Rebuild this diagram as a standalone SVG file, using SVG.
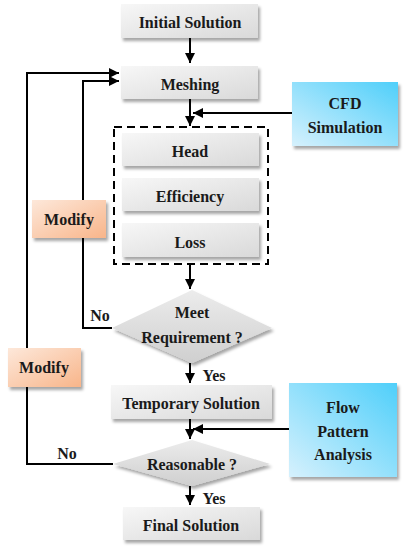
<svg xmlns="http://www.w3.org/2000/svg" width="406" height="550" viewBox="0 0 406 550">
<style>
text{font-family:'Liberation Serif','DejaVu Serif',serif;font-size:16px;font-weight:700;fill:#1a1a1a;text-anchor:middle;dominant-baseline:central}
.c{fill:none;stroke:#000;stroke-width:2}
.g{fill:url(#gray);filter:url(#sh)}
.b{fill:url(#blue);filter:url(#sh)}
.o{fill:url(#orange);filter:url(#sh)}
.d{fill:url(#dgray);filter:url(#sh)}
</style>
<defs>
<linearGradient id="gray" x1="0" y1="0" x2="1" y2="1"><stop offset="0" stop-color="#f7f7f7"/><stop offset="1" stop-color="#d9d9d9"/></linearGradient>
<linearGradient id="dgray" x1="0" y1="0" x2="0" y2="1"><stop offset="0" stop-color="#ececec"/><stop offset="1" stop-color="#cfcfcf"/></linearGradient>
<linearGradient id="blue" x1="1" y1="0" x2="0" y2="1"><stop offset="0" stop-color="#4fcffa"/><stop offset="1" stop-color="#d6f1fd"/></linearGradient>
<linearGradient id="orange" x1="0" y1="0" x2="1" y2="1"><stop offset="0" stop-color="#fde8da"/><stop offset="1" stop-color="#f8b58a"/></linearGradient>
<filter id="sh" x="-20%" y="-20%" width="140%" height="150%"><feDropShadow dx="2" dy="3" stdDeviation="1.5" flood-color="#000" flood-opacity="0.35"/></filter>
<marker id="ah" viewBox="0 0 10 10" refX="10" refY="5" markerWidth="5" markerHeight="5" orient="auto-start-reverse" markerUnits="strokeWidth"><path d="M0,0 L10,5 L0,10 z" fill="#000"/></marker>
</defs>
<g id="connectors">
<path class="c" d="M190,38 V63" marker-end="url(#ah)"/>
<path class="c" d="M190,99 V126" marker-end="url(#ah)"/>
<path class="c" d="M292,113 H193" marker-end="url(#ah)"/>
<path class="c" d="M190,264 V289" marker-end="url(#ah)"/>
<path class="c" d="M112,328 H83 V81 H119" marker-end="url(#ah)"/>
<path class="c" d="M113,464 H27 V73 H119" marker-end="url(#ah)"/>
<path class="c" d="M190,363 V383" marker-end="url(#ah)"/>
<path class="c" d="M190,419 V439" marker-end="url(#ah)"/>
<path class="c" d="M289,429 H193" marker-end="url(#ah)"/>
<path class="c" d="M190,486 V505" marker-end="url(#ah)"/>
<rect x="114" y="127" width="154" height="137" fill="none" stroke="#000" stroke-width="2" stroke-dasharray="8,5"/>
</g>
<g id="initial"><rect class="g" x="121" y="4" width="137" height="34"/><text x="190" y="22">Initial Solution</text></g>
<g id="meshing"><rect class="g" x="121" y="66" width="137" height="33"/><text x="190" y="84">Meshing</text></g>
<g id="cfd"><rect class="b" x="292" y="82" width="106" height="64"/><text x="345" y="103">CFD</text><text x="345" y="127">Simulation</text></g>
<g id="head"><rect class="g" x="122" y="133" width="137" height="33"/><text x="190" y="151">Head</text></g>
<g id="efficiency"><rect class="g" x="122" y="178" width="137" height="33"/><text x="190" y="196">Efficiency</text></g>
<g id="loss"><rect class="g" x="122" y="223" width="137" height="34"/><text x="190" y="242">Loss</text></g>
<g id="modify1"><rect class="o" x="32" y="200" width="74" height="38"/><text x="69" y="219">Modify</text></g>
<g id="meet"><path class="d" d="M192,290 L272,328 L192,363 L112,328 Z"/><text x="192" y="312">Meet</text><text x="192" y="337">Requirement ?</text></g>
<g id="modify2"><rect class="o" x="8" y="348" width="73" height="39"/><text x="44" y="367">Modify</text></g>
<g id="temporary"><rect class="g" x="111" y="385" width="161" height="34"/><text x="191" y="403">Temporary Solution</text></g>
<g id="flow"><rect class="b" x="289" y="383" width="108" height="94"/><text x="343" y="407">Flow</text><text x="343" y="431">Pattern</text><text x="343" y="454">Analysis</text></g>
<g id="reasonable"><path class="d" d="M192,440 L270,464 L192,486 L113,464 Z"/><text x="192" y="464">Reasonable ?</text></g>
<g id="final"><rect class="g" x="123" y="507" width="137" height="33"/><text x="191" y="525">Final Solution</text></g>
<g id="labels">
<text x="100" y="315">No</text>
<text x="67" y="453">No</text>
<text x="214" y="375">Yes</text>
<text x="214" y="498">Yes</text>
</g>
</svg>
